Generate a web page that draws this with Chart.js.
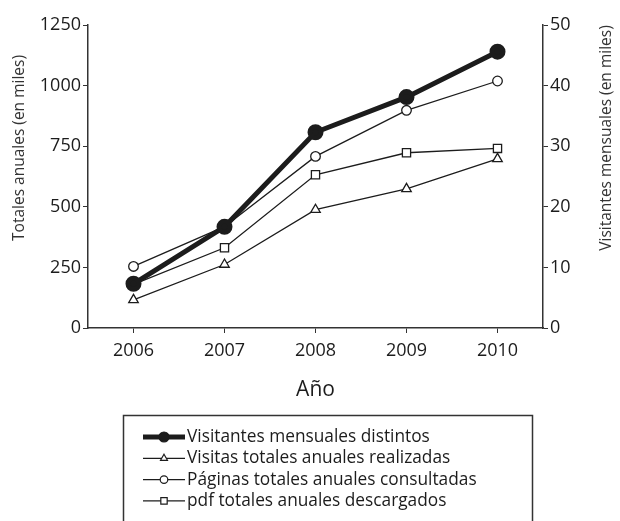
<!DOCTYPE html>
<html>
<head>
<meta charset="utf-8">
<script src="https://cdn.jsdelivr.net/npm/chart.js@4"></script>
<style>
  html, body { margin: 0; padding: 0; background: #fff; }
</style>
</head>
<body>
<canvas id="grafico" width="620" height="521"></canvas>
<script>
// años (eje X)
const years = ['2006', '2007', '2008', '2009', '2010'];
// visitantes mensuales distintos, eje derecho (miles)
const visitantesMensuales = [7.3, 16.7, 32.3, 38.1, 45.6];
// totales anuales, eje izquierdo (miles)
const visitasAnuales = [116, 262, 488, 574, 698];
const paginasAnuales = [254, 418, 708, 898, 1019];
const pdfAnuales = [180, 331, 632, 723, 741];
// ejes
const leftMax = 1250, leftStep = 250;
const rightMax = 50, rightStep = 10;
const leftTitle = 'Totales anuales (en miles)';
const rightTitle = 'Visitantes mensuales (en miles)';

const INK = '#1c1c1c';
const FONT = "'Open Sans', sans-serif";

// títulos verticales (los dos leídos de abajo hacia arriba) y leyenda con recuadro
const extras = {
  id: 'extras',
  afterDraw(chart) {
    const ctx = chart.ctx;
    ctx.save();
    ctx.fillStyle = '#333';
    ctx.font = '15.5px ' + FONT;
    ctx.textAlign = 'center';
    ctx.textBaseline = 'middle';
    [[20, 148, leftTitle], [607, 138, rightTitle]].forEach(([x, y, t]) => {
      ctx.save();
      ctx.translate(x, y);
      ctx.rotate(-Math.PI / 2);
      ctx.fillText(t, 0, 0);
      ctx.restore();
    });
    ctx.restore();

    ctx.save();
    ctx.strokeStyle = '#333';
    ctx.lineWidth = 1.5;
    ctx.strokeRect(123.5, 415.5, 409, 130);
    ctx.font = '17.3px ' + FONT;
    ctx.textBaseline = 'middle';
    chart.data.datasets.forEach((ds, i) => {
      const y = 437 + i * 21.3;
      ctx.strokeStyle = ds.borderColor;
      ctx.lineWidth = ds.borderWidth;
      ctx.beginPath();
      ctx.moveTo(143, y);
      ctx.lineTo(185, y);
      ctx.stroke();
      ctx.fillStyle = ds.pointBackgroundColor;
      ctx.lineWidth = 1.2;
      Chart.helpers.drawPoint(ctx, {
        pointStyle: ds.pointStyle,
        radius: ds.legendRadius,
        borderWidth: 1.2,
        rotation: 0
      }, 164, y);
      ctx.fillStyle = INK;
      ctx.fillText(ds.label, 187, y);
    });
    ctx.restore();
  }
};

const axisGrid = { drawOnChartArea: false, drawTicks: true, tickLength: 5, color: '#333' };
const axisBorder = { color: '#333', width: 1.5 };

new Chart(document.getElementById('grafico'), {
  type: 'line',
  data: {
    labels: years,
    datasets: [
      {
        label: 'Visitantes mensuales distintos',
        data: visitantesMensuales,
        yAxisID: 'yR',
        borderColor: INK,
        borderWidth: 5,
        pointStyle: 'circle',
        pointRadius: 5.5,
        pointBackgroundColor: INK,
        pointBorderColor: INK,
        legendRadius: 5
      },
      {
        label: 'Visitas totales anuales realizadas',
        data: visitasAnuales,
        yAxisID: 'yL',
        borderColor: INK,
        borderWidth: 1.3,
        pointStyle: 'triangle',
        pointRadius: 5.5,
        pointBorderWidth: 1.3,
        pointBackgroundColor: '#fff',
        pointBorderColor: INK,
        legendRadius: 4
      },
      {
        label: 'Páginas totales anuales consultadas',
        data: paginasAnuales,
        yAxisID: 'yL',
        borderColor: INK,
        borderWidth: 1.3,
        pointStyle: 'circle',
        pointRadius: 4.8,
        pointBorderWidth: 1.3,
        pointBackgroundColor: '#fff',
        pointBorderColor: INK,
        legendRadius: 3.8
      },
      {
        label: 'pdf totales anuales descargados',
        data: pdfAnuales,
        yAxisID: 'yL',
        borderColor: INK,
        borderWidth: 1.3,
        pointStyle: 'rect',
        pointRadius: 5.8,
        pointBorderWidth: 1.3,
        pointBackgroundColor: '#fff',
        pointBorderColor: INK,
        legendRadius: 4.5
      }
    ]
  },
  options: {
    responsive: false,
    animation: false,
    layout: { padding: { top: 25, bottom: 121, left: 0, right: 0 } },
    plugins: {
      legend: { display: false },
      tooltip: { enabled: false }
    },
    scales: {
      x: {
        offset: true,
        grid: axisGrid,
        border: axisBorder,
        ticks: { color: INK, font: { family: FONT, size: 18 }, padding: 7 },
        title: { display: true, text: 'Año', color: INK, font: { family: FONT, size: 21 }, padding: { top: -3, bottom: -3 } },
        afterFit(s) { s.height = 72; }
      },
      yL: {
        position: 'left',
        min: 0, max: leftMax,
        grid: axisGrid,
        border: axisBorder,
        ticks: { stepSize: leftStep, color: INK, font: { family: FONT, size: 18 }, padding: 2, callback: v => String(v) },
        afterFit(s) { s.width = 88; }
      },
      yR: {
        position: 'right',
        min: 0, max: rightMax,
        grid: axisGrid,
        border: axisBorder,
        ticks: { stepSize: rightStep, color: INK, font: { family: FONT, size: 18 }, padding: 2, callback: v => String(v) },
        afterFit(s) { s.width = 77; }
      }
    }
  },
  plugins: [extras]
});
</script>
</body>
</html>
